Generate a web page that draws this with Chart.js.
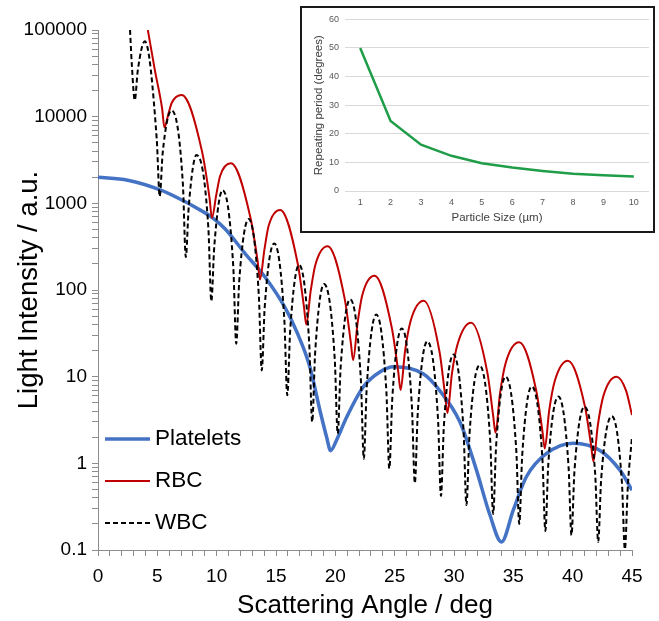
<!DOCTYPE html>
<html>
<head>
<meta charset="utf-8">
<title>Light scattering</title>
<script src="https://cdn.jsdelivr.net/npm/chart.js@4.4.1/dist/chart.umd.min.js"></script>
<style>
  html, body { margin: 0; padding: 0; background: #fff; }
  #wrap { position: relative; width: 659px; height: 621px; }
  #main { position: absolute; left: 0; top: 0; }
  #insetBox { position: absolute; left: 300px; top: 6px; width: 355px; height: 227px; box-sizing: border-box; border: 2px solid #1a1a1a; background: #fff; }
  #inset { display: block; }
</style>
</head>
<body>
<div id="wrap">
  <canvas id="main" width="659" height="621"></canvas>
  <div id="insetBox"><canvas id="inset" width="351" height="223"></canvas></div>
</div>
<script>
// values (angle in deg, intensity in a.u.)
const plateletAngle = [0, 2.5, 5.3, 7.2, 8.2, 9.6, 10.7, 12.4, 14.07, 15.75, 16.75, 17.85, 18.7, 19.27, 19.6, 20.1, 20.95, 22.35, 23.75, 24.9, 27.4, 28.8, 30.5, 31.9, 33.0, 34.0, 35.0, 36.1, 37.8, 40.05, 42.3, 44.0, 45];
const plateletIntensity = [2000, 1850, 1420, 1070, 900, 690, 510, 263, 141, 63, 33, 13, 4.1, 2.0, 1.4, 1.85, 3.4, 7.6, 11.3, 13, 10.8, 6.9, 3.0, 0.83, 0.26, 0.124, 0.29, 0.7, 1.3, 1.71, 1.41, 0.83, 0.49];

const rbcAngle = [4.2, 4.8, 5.4, 5.6, 5.95, 6.22, 7.05, 8.76, 9.4, 9.6, 9.97, 10.29, 11.2, 12.84, 13.45, 13.65, 14.02, 14.38, 15.35, 16.82, 17.35, 17.55, 17.92, 18.32, 19.35, 20.79, 21.3, 21.5, 21.87, 22.27, 23.3, 24.77, 25.3, 25.5, 25.87, 26.34, 27.45, 28.79, 29.25, 29.45, 29.82, 30.31, 31.45, 32.82, 33.3, 33.5, 33.87, 34.36, 35.5, 36.94, 37.45, 37.65, 38.02, 38.49, 39.6, 41.04, 41.55, 41.75, 42.12, 42.59, 43.7, 44.5, 45];
const rbcIntensity = [100000, 34000, 12500, 7500, 11000, 14500, 17800, 4000, 1150, 680, 1260, 2070, 2900, 690, 216, 132, 290, 550, 840, 205, 65, 40, 97, 196, 320, 79, 25, 15.5, 41, 87, 146, 36, 11.4, 7.0, 19.5, 43.6, 75, 19, 6.1, 3.8, 10.7, 24, 42, 11, 3.55, 2.25, 6.3, 14.5, 25, 6.8, 2.35, 1.48, 4.05, 8.9, 15.3, 4.5, 1.62, 1.05, 2.75, 6.0, 10, 6.9, 3.6];

const wbcAngle = [2.7, 2.85, 3.1, 3.35, 3.95, 4.95, 5.2, 5.45, 6.2, 7.15, 7.4, 7.65, 8.3, 9.3, 9.55, 9.8, 10.5, 11.4, 11.65, 11.9, 12.7, 13.55, 13.8, 14.05, 14.85, 15.7, 15.95, 16.2, 16.95, 17.8, 18.05, 18.3, 19.05, 19.95, 20.2, 20.45, 21.25, 22.15, 22.4, 22.65, 23.45, 24.3, 24.55, 24.8, 25.6, 26.45, 26.7, 26.95, 27.75, 28.65, 28.9, 29.15, 29.95, 30.8, 31.05, 31.3, 32.15, 33.05, 33.3, 33.55, 34.35, 35.25, 35.5, 35.75, 36.55, 37.45, 37.7, 37.95, 38.8, 39.65, 39.9, 40.15, 41.0, 41.9, 42.15, 42.4, 43.3, 44.15, 44.4, 44.65, 45];
const wbcIntensity = [100000, 40000, 15500, 34000, 74000, 5500, 1200, 3800, 11800, 1700, 240, 930, 3600, 520, 74, 320, 1420, 185, 24, 126, 660, 88, 11.8, 64, 345, 46, 6.1, 35, 195, 24, 3.0, 19, 117, 16, 2.2, 13, 78, 9.3, 1.13, 7.7, 52, 6.8, 0.87, 5.6, 36, 4.6, 0.59, 3.9, 25.5, 3.3, 0.42, 2.75, 18, 2.45, 0.33, 2.1, 13.5, 1.85, 0.26, 1.6, 10, 1.4, 0.2, 1.25, 7.7, 1.13, 0.166, 1.0, 5.9, 0.93, 0.148, 0.81, 4.5, 0.74, 0.124, 0.65, 3.5, 0.6, 0.102, 0.55, 2.0];

// inset: repeating period vs particle size
const particleSize = ["1", "2", "3", "4", "5", "6", "7", "8", "9", "10"];
const repeatPeriod = [50, 24.5, 16.2, 12.3, 9.7, 8.2, 7, 6, 5.5, 5.1];

// axis ticks
const yDecades = [0.1, 1, 10, 100, 1000, 10000, 100000];
const xMajorTicks = [0, 5, 10, 15, 20, 25, 30, 35, 40, 45];

const FONT = "'Liberation Sans', Arial, sans-serif";
const AXIS_GRAY = "#8c8c8c";

const yTicks = [];
yDecades.forEach((d) => {
  if (d === 100000) { yTicks.push(d); return; }
  for (let k = 1; k <= 9; k++) yTicks.push(d * k);
});
const xTicks = [];
for (let v = 0; v <= 45; v++) xTicks.push(v);

const xy = (xs, ys) => xs.map((x, i) => ({ x, y: ys[i] }));

const inPlotLegend = {
  id: "inPlotLegend",
  afterDatasetsDraw(chart) {
    const { ctx, chartArea } = chart;
    chart.data.datasets.forEach((ds, i) => {
      const y = chartArea.bottom - 111 + i * 42;
      ctx.save();
      ctx.strokeStyle = ds.borderColor;
      ctx.lineWidth = ds.borderWidth;
      ctx.setLineDash(ds.borderDash || []);
      ctx.beginPath();
      ctx.moveTo(chartArea.left + 7, y);
      ctx.lineTo(chartArea.left + 52, y);
      ctx.stroke();
      ctx.setLineDash([]);
      ctx.fillStyle = "#000";
      ctx.font = "22.5px " + FONT;
      ctx.textBaseline = "middle";
      ctx.fillText(ds.label, chartArea.left + 57, y);
      ctx.restore();
    });
  }
};

new Chart(document.getElementById("main"), {
  type: "line",
  data: {
    datasets: [
      { label: "Platelets", data: xy(plateletAngle, plateletIntensity), borderColor: "#4472c4", borderWidth: 3.5, order: 2 },
      { label: "RBC", data: xy(rbcAngle, rbcIntensity), borderColor: "#c00000", borderWidth: 2, order: 1 },
      { label: "WBC", data: xy(wbcAngle, wbcIntensity), borderColor: "#000000", borderWidth: 2, borderDash: [5, 3], order: 0 }
    ]
  },
  options: {
    responsive: false,
    animation: false,
    events: [],
    layout: { padding: { left: 0, right: 27, top: 30, bottom: 0 } },
    elements: {
      point: { radius: 0 },
      line: { cubicInterpolationMode: "monotone", fill: false }
    },
    plugins: { legend: { display: false }, tooltip: { enabled: false } },
    scales: {
      x: {
        type: "linear", min: 0, max: 45,
        afterFit: (s) => { s.height = 71; },
        afterBuildTicks: (s) => { s.ticks = xTicks.map((v) => ({ value: v })); },
        ticks: {
          autoSkip: false, maxRotation: 0, padding: 9, color: "#000",
          font: { size: 19, family: FONT },
          callback: (v) => (xMajorTicks.includes(v) ? String(v) : "")
        },
        grid: { drawOnChartArea: false, tickLength: 6, color: AXIS_GRAY },
        border: { color: AXIS_GRAY },
        title: { display: true, text: "Scattering Angle / deg", color: "#000", font: { size: 26, family: FONT }, padding: { top: 0, bottom: 0 } }
      },
      y: {
        type: "logarithmic", min: 0.1, max: 100000,
        afterFit: (s) => { s.width = 98; },
        afterBuildTicks: (s) => { s.ticks = yTicks.map((v) => ({ value: v })); },
        ticks: {
          autoSkip: false, padding: 5, color: "#000",
          font: { size: 19, family: FONT },
          callback: (v) => (yDecades.includes(v) ? String(v) : "")
        },
        grid: { drawOnChartArea: false, tickLength: 6, color: AXIS_GRAY },
        border: { color: AXIS_GRAY },
        title: { display: true, text: "Light Intensity / a.u.", color: "#000", font: { size: 27.5, family: FONT }, padding: { top: 13, bottom: 0 } }
      }
    }
  },
  plugins: [inPlotLegend]
});

new Chart(document.getElementById("inset"), {
  type: "line",
  data: {
    labels: particleSize,
    datasets: [{ data: repeatPeriod, borderColor: "#1f9d48", borderWidth: 2.5, pointRadius: 0, tension: 0 }]
  },
  options: {
    responsive: false,
    animation: false,
    events: [],
    layout: { padding: { left: 0, right: 4, top: 9, bottom: 0 } },
    plugins: { legend: { display: false }, tooltip: { enabled: false } },
    scales: {
      x: {
        offset: true,
        afterFit: (s) => { s.height = 40; },
        grid: { display: false, drawTicks: false },
        border: { display: false },
        ticks: { color: "#595959", font: { size: 9, family: FONT }, padding: 6, maxRotation: 0 },
        title: { display: true, text: "Particle Size (µm)", color: "#404040", font: { size: 11.5, family: FONT }, padding: { top: 0, bottom: 6 } }
      },
      y: {
        min: 0, max: 60,
        afterFit: (s) => { s.width = 43; },
        ticks: { stepSize: 10, color: "#595959", font: { size: 9, family: FONT }, padding: 6 },
        grid: { color: "#d9d9d9", drawTicks: false },
        border: { display: false },
        title: { display: true, text: "Repeating period (degrees)", color: "#404040", font: { size: 11.5, family: FONT }, padding: { top: 10, bottom: 0 } }
      }
    }
  }
});
</script>
</body>
</html>
